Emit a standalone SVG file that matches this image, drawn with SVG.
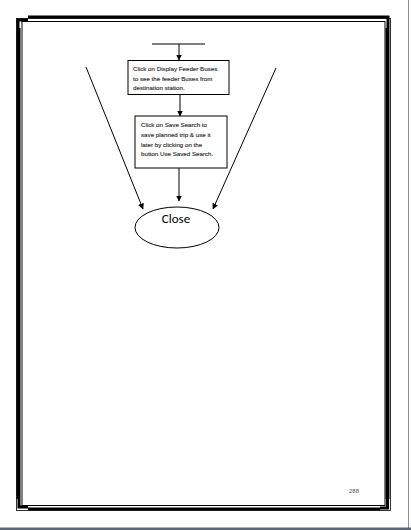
<svg xmlns="http://www.w3.org/2000/svg" width="411" height="530" viewBox="0 0 411 530">
<style>
.box{fill:#fff;stroke:#000;stroke-width:1}
.ln{stroke:#000;stroke-width:1;fill:none}
.t{font-family:"Liberation Sans",Arial,sans-serif;font-size:6.2px;fill:#222;font-weight:normal;stroke:#444;stroke-width:0.15}
.big{font-family:"Carlito","Liberation Sans",Arial,sans-serif;font-size:13px;fill:#000}
</style>
<defs>
<marker id="ah" markerWidth="6" markerHeight="6" refX="5.5" refY="3" orient="auto" markerUnits="userSpaceOnUse">
<path d="M0,0 L6,3 L0,6 Z" fill="#000"/>
</marker>
</defs>
<rect width="411" height="530" fill="#fff"/>
<g id="page-border">
<line x1="408.5" y1="0" x2="408.5" y2="528" stroke="#8a8f96" stroke-width="1"/>
<rect x="0" y="527.5" width="411" height="2.5" fill="#5b6573"/>
<path d="M28,17 H380" stroke="#000" stroke-width="3"/>
<path d="M28,509 H380" stroke="#000" stroke-width="3"/>
<path d="M18.5,28 V499" stroke="#000" stroke-width="4"/>
<path d="M387.5,28 V499" stroke="#000" stroke-width="4"/>
<path d="M18,28 V20 H28" stroke="#000" stroke-width="3" fill="none"/>
<path d="M380,17 H388 V28" stroke="#000" stroke-width="3" fill="none"/>
<path d="M19,499 V507 H28" stroke="#000" stroke-width="3" fill="none"/>
<path d="M380,508 H387.5 V499" stroke="#000" stroke-width="3" fill="none"/>
<rect x="22" y="21.5" width="363" height="484" fill="none" stroke="#000" stroke-width="1"/>
<rect x="16.5" y="18.5" width="374" height="492" fill="none" stroke="#000" stroke-width="0.8"/>
</g>
<g id="connectors">
<line class="ln" x1="152" y1="44" x2="205" y2="44"/>
<line class="ln" x1="179" y1="44" x2="179" y2="60" marker-end="url(#ah)"/>
<line class="ln" x1="180" y1="94" x2="180" y2="116" marker-end="url(#ah)"/>
<line class="ln" x1="179" y1="168" x2="179" y2="201" marker-end="url(#ah)"/>
<line class="ln" x1="86" y1="67" x2="143" y2="209" marker-end="url(#ah)"/>
<line class="ln" x1="276" y1="68" x2="213" y2="209" marker-end="url(#ah)"/>
</g>
<g id="node-display">
<rect class="box" x="128" y="60.5" width="101" height="34"/>
<text class="t" x="133" y="71">Click on Display Feeder Buses</text>
<text class="t" x="133" y="80.5">to see the feeder  Buses from</text>
<text class="t" x="133" y="90">destination station.</text>
</g>
<g id="node-save">
<rect class="box" x="135" y="116" width="92" height="52"/>
<text class="t" x="141" y="127">Click on Save Search  to</text>
<text class="t" x="141" y="137">save planned trip &amp; use it</text>
<text class="t" x="141" y="146.5">later by clicking on the</text>
<text class="t" x="141" y="156">button Use Saved  Search.</text>
</g>
<g id="node-close">
<ellipse cx="177" cy="227.5" rx="42" ry="20.5" fill="#fff" stroke="#000" stroke-width="1"/>
<text class="big" x="176" y="223" text-anchor="middle">Close</text>
</g>
<text x="354" y="493" text-anchor="middle" font-family="Liberation Sans,Arial,sans-serif" font-size="6" fill="#555">288</text>
</svg>
